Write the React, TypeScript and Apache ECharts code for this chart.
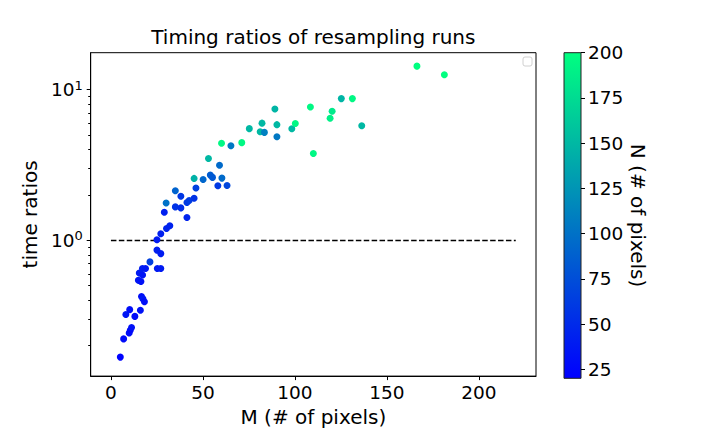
import React, { useRef, useEffect } from 'react'
import * as echarts from 'echarts'

// M (# of pixels) per run
const mValues = [
  5.1, 6.9, 9.9, 10.5, 11.2, 8.1, 10.2, 13.0, 16.0, 16.6, 17.4, 18.2, 14.9, 16.3, 15.4, 17.2, 17.1,
  18.8, 21.2, 25.2, 27.1, 25.0, 27.1, 25.0, 27.1, 30.2, 32.0, 29.0, 30.0, 35.0, 38.0, 41.3, 35.0,
  38.0, 41.3, 42.5, 45.2, 46.2, 45.2, 50.1, 54.0, 55.2, 58.1, 63.1, 60.3, 59.0, 53.0, 60.1, 65.2,
  71.1, 75.2, 81.1, 83.4, 82.1, 90.2, 90.2, 89.1, 98.3, 100.2, 108.4, 110.0, 119.1, 120.2, 125.2,
  131.2, 136.3, 166.3, 181.2,
]
// time ratios
const ratios = [
  0.168, 0.222, 0.243, 0.253, 0.264, 0.322, 0.347, 0.313, 0.344, 0.424, 0.409, 0.392, 0.543, 0.534,
  0.608, 0.59, 0.651, 0.651, 0.72, 0.651, 0.651, 0.862, 0.817, 1.011, 1.107, 1.2, 1.25, 1.539,
  1.772, 1.668, 1.643, 1.418, 2.136, 1.962, 1.785, 1.841, 1.906, 2.225, 2.578, 2.532, 2.711, 2.618,
  2.305, 2.311, 2.59, 3.155, 3.493, 4.406, 4.242, 4.453, 5.515, 5.263, 5.207, 5.997, 4.878, 5.861,
  7.438, 5.508, 5.96, 7.667, 3.769, 6.469, 7.194, 8.725, 8.725, 5.764, 14.33, 12.56,
]
// N (# of pixels) per run
const nValues = [
  22, 28, 30, 25, 32, 35, 30, 28, 33, 30, 36, 30, 35, 32, 38, 34, 40, 36, 65, 38, 38, 42, 40, 38,
  42, 45, 44, 42, 100, 55, 52, 45, 90, 58, 60, 62, 55, 65, 145, 92, 85, 82, 60, 70, 95, 95, 150,
  195, 105, 195, 150, 150, 110, 150, 105, 150, 148, 150, 195, 195, 195, 190, 185, 148, 195, 150,
  200, 200,
]

const refX = [0, 220]
const refY = [1, 1]

const xTicks = [0, 50, 100, 150, 200]
const yTicks = [1, 10]
const yMinorTicks = [0.2, 0.3, 0.4, 0.5, 0.6, 0.7, 0.8, 0.9, 2, 3, 4, 5, 6, 7, 8, 9]
const cbTicks = [25, 50, 75, 100, 125, 150, 175, 200]

const FONT = 'DejaVu Sans'
const PLOT = { left: 90.7, top: 52.7, width: 445.3, height: 325.6 }
const CBAR = { left: 564, top: 52.7, width: 17, height: 325.6 }

const App: React.FC = () => {
  const chartRef = useRef<HTMLDivElement>(null)

  useEffect(() => {
    if (!chartRef.current) return
    const chart = echarts.init(chartRef.current, undefined, { renderer: 'svg' })

    const points = mValues.map((m, i) => [m, ratios[i], nValues[i]])
    const refLine = refX.map((x, i) => [x, refY[i]])

    const labelStyle = { fontSize: 18.5, color: '#000', fontFamily: FONT }
    const nameStyle = { fontSize: 20, color: '#000', fontFamily: FONT }

    const option = {
      animation: false,
      backgroundColor: '#fff',
      title: {
        text: 'Timing ratios of resampling runs',
        left: PLOT.left + PLOT.width / 2,
        textAlign: 'center',
        top: 27,
        padding: 0,
        textStyle: { fontSize: 20, fontWeight: 'normal', color: '#000', fontFamily: FONT },
      },
      grid: [
        { ...PLOT, show: true, borderColor: '#000', borderWidth: 1, backgroundColor: 'transparent' },
        { ...CBAR },
      ],
      visualMap: {
        show: false,
        type: 'continuous',
        seriesIndex: 0,
        dimension: 2,
        min: 20,
        max: 200,
        inRange: { color: ['#0000ff', '#00ff80'] },
      },
      xAxis: [
        {
          type: 'value',
          gridIndex: 0,
          min: -11,
          max: 231,
          name: 'M (# of pixels)',
          nameLocation: 'middle',
          nameGap: 25,
          nameTextStyle: nameStyle,
          axisLine: { show: true, onZero: false, lineStyle: { color: '#000', width: 1 } },
          axisTick: { show: true, customValues: xTicks, length: 4, lineStyle: { color: '#000' } },
          axisLabel: { customValues: xTicks, margin: 7, ...labelStyle },
          splitLine: { show: false },
        },
        { type: 'value', gridIndex: 1, min: 0, max: 1, show: false },
      ],
      yAxis: [
        {
          type: 'log',
          logBase: 10,
          gridIndex: 0,
          position: 'left',
          min: 0.1257,
          max: 17.6,
          name: 'time ratios',
          nameLocation: 'middle',
          nameGap: 50,
          nameTextStyle: nameStyle,
          axisLine: { show: true, onZero: false, lineStyle: { color: '#000', width: 1 } },
          axisTick: { show: true, customValues: yTicks, length: 4, lineStyle: { color: '#000' } },
          axisLabel: {
            customValues: yTicks,
            margin: 8,
            ...labelStyle,
            formatter: (v: number) => `10{sup|${Math.round(Math.log10(v))}}`,
            rich: { sup: { fontSize: 13, color: '#000', fontFamily: FONT, padding: [0, 0, 9, 0] } },
          },
          splitLine: { show: false },
        },
        {
          // minor ticks of the log axis
          type: 'log',
          logBase: 10,
          gridIndex: 0,
          position: 'left',
          offset: 0,
          min: 0.1257,
          max: 17.6,
          axisLine: { show: false, onZero: false },
          axisTick: { show: true, customValues: yMinorTicks, length: 2.5, lineStyle: { color: '#000' } },
          axisLabel: { show: false },
          splitLine: { show: false },
        },
        {
          type: 'value',
          gridIndex: 1,
          position: 'right',
          min: 20,
          max: 200,
          name: 'N (# of pixels)',
          nameLocation: 'middle',
          nameRotate: -90,
          nameGap: 47,
          nameTextStyle: nameStyle,
          axisLine: { show: false, onZero: false },
          axisTick: { show: true, customValues: cbTicks, length: 4, lineStyle: { color: '#000' } },
          axisLabel: { customValues: cbTicks, margin: 7, ...labelStyle },
          splitLine: { show: false },
        },
      ],
      graphic: [
        {
          type: 'rect',
          shape: { x: CBAR.left, y: CBAR.top, width: CBAR.width, height: CBAR.height },
          style: {
            fill: new echarts.graphic.LinearGradient(0, 0, 0, 1, [
              { offset: 0, color: '#00ff80' },
              { offset: 1, color: '#0000ff' },
            ]),
            stroke: '#222',
            lineWidth: 1,
          },
          z: 0,
        },
        {
          // empty legend frame
          type: 'rect',
          shape: { x: 523, y: 57, width: 9, height: 9, r: 2 },
          style: { fill: '#fff', stroke: '#d0d0d0', lineWidth: 1 },
        },
      ],
      series: [
        {
          type: 'scatter',
          xAxisIndex: 0,
          yAxisIndex: 0,
          data: points,
          symbolSize: 7,
          itemStyle: { opacity: 1 },
          z: 3,
        },
        {
          type: 'line',
          xAxisIndex: 0,
          yAxisIndex: 0,
          data: refLine,
          symbol: 'none',
          lineStyle: { color: '#000', width: 1.5, type: [5.5, 2.4] },
          z: 2,
        },
      ],
    }

    chart.setOption(option)

    return () => {
      chart.dispose()
    }
  }, [])

  return (
    <div
      ref={chartRef}
      style={{ position: 'fixed', left: 0, top: 0, width: '720px', height: '432px' }}
    />
  )
}

export default App
